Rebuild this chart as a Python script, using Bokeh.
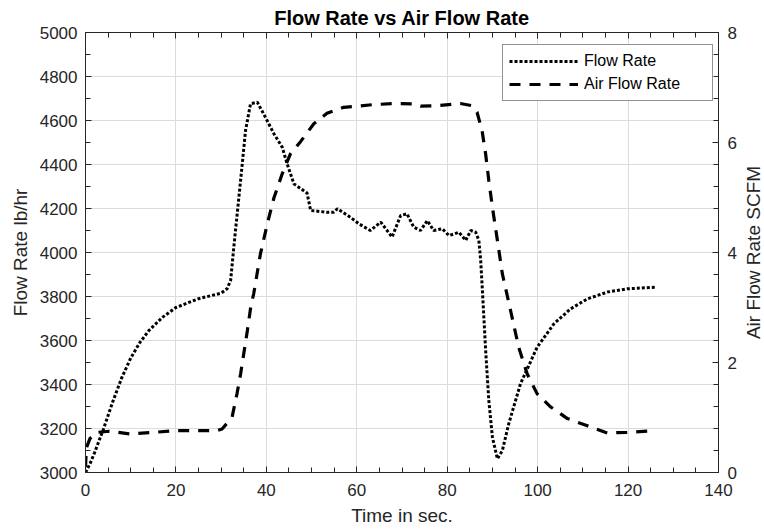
import math
from bokeh.plotting import figure
from bokeh.models import (Range1d, LinearAxis, SingleIntervalTicker, Legend,
                          LegendItem, CustomJSTickFormatter, Label)
from bokeh.embed import file_html
from bokeh.resources import INLINE

# ---- data ----
time_flow = [0, 1.0, 2.0, 4.0, 6.0, 8.0, 10.0, 12.0, 14.0, 17.0, 20.0, 25.0,
             30.0, 31.3, 32.1,
             32.8, 34.3, 35.4, 36.5, 38.0, 39.4, 41.7, 43.5, 44.6, 46.1, 49.0,
             49.8, 53.4, 54.9, 55.7, 58.6, 60.5, 63.0, 65.3, 67.8, 69.7, 71.1,
             72.6, 74.1, 75.6, 77.0, 78.9, 80.4, 82.6, 84.1, 85.2, 86.3, 87.0,
             87.4, 87.7, 88.5, 89.2, 90.0, 91.1, 92.2, 93.6, 96.2, 99.9, 103.6,
             107.3, 111.0, 115.4, 119.8, 126.1]
flow_rate = [3000, 3040, 3090, 3199, 3320, 3430, 3520, 3590, 3645, 3705, 3750, 3790,
             3815, 3835, 3873,
             4024, 4327, 4555, 4676, 4683, 4630, 4539, 4479, 4403, 4312, 4270,
             4191, 4183, 4183, 4199, 4160, 4130, 4100, 4138, 4070, 4168, 4176,
             4115, 4100, 4145, 4100, 4108, 4077, 4092, 4055, 4100, 4092, 4055,
             3964, 3858, 3555, 3327, 3160, 3062, 3100, 3221, 3403, 3570, 3676,
             3744, 3789, 3820, 3835, 3842]

time_air = [0, 0.2, 1.0, 2.6, 5.2, 10.0, 15.1, 19.9, 24.7, 29.1, 30.2, 32.4,
            33.5, 34.3, 35.0, 35.8, 36.6, 37.2, 38.7, 40.2, 41.7, 43.5, 45.3,
            47.6, 50.5, 53.4, 57.1, 60.1, 63.8, 69.0, 72.6, 74.1, 77.8, 82.9,
            85.5, 86.6, 87.7, 88.5, 89.2, 90.0, 91.1, 92.2, 94.0, 95.8, 97.7,
            99.9, 102.9, 106.6, 111.0, 115.4, 119.8, 126.1]
air_flow = [0.10, 0.45, 0.62, 0.73, 0.75, 0.70, 0.73, 0.76, 0.76, 0.76, 0.79, 1.00,
            1.43, 1.79, 2.16, 2.58, 3.04, 3.25, 3.98, 4.52, 5.00, 5.43, 5.79,
            6.02, 6.34, 6.53, 6.64, 6.66, 6.69, 6.71, 6.70, 6.66, 6.67, 6.71,
            6.67, 6.55, 6.22, 5.79, 5.31, 4.82, 4.22, 3.61, 2.95, 2.28, 1.79,
            1.43, 1.19, 0.98, 0.85, 0.72, 0.73, 0.76]

title_text = "Flow Rate vs Air Flow Rate"
x_label = "Time in sec."
y_left_label = "Flow Rate lb/hr"
y_right_label = "Air Flow Rate SCFM"
series_names = ["Flow Rate", "Air Flow Rate"]

FONT = "Liberation Sans"
AX_COLOR = "#262626"

p = figure(width=764, height=531, output_backend="svg", toolbar_location=None,
           x_range=Range1d(0, 140), y_range=Range1d(3000, 5000),
           min_border_left=85, min_border_right=46, min_border_top=32,
           min_border_bottom=59, title=title_text)
p.extra_y_ranges = {"air": Range1d(0, 8)}
p.background_fill_color = "white"
p.border_fill_color = "white"
p.outline_line_color = None

p.title.text_font = FONT
p.title.text_font_size = "20px"
p.title.text_font_style = "bold"
p.title.text_color = "black"
p.title.align = "center"
p.title.standoff = 7

xt = SingleIntervalTicker(interval=20, num_minor_ticks=4)
yt = SingleIntervalTicker(interval=200, num_minor_ticks=2)
p.xaxis.ticker = xt
p.yaxis.ticker = yt
p.xgrid.ticker = xt
p.ygrid.ticker = yt
for g in (p.xgrid, p.ygrid):
    g.grid_line_color = "#dcdcdc"
    g.grid_line_width = 1

def style(ax):
    ax.axis_line_color = AX_COLOR
    ax.axis_line_width = 1
    ax.major_tick_in = 6
    ax.major_tick_out = 0
    ax.minor_tick_in = 5
    ax.minor_tick_out = 0
    ax.major_tick_line_color = AX_COLOR
    ax.minor_tick_line_color = AX_COLOR
    ax.major_label_text_font = FONT
    ax.major_label_text_font_size = "17px"
    ax.major_label_text_color = AX_COLOR
    ax.axis_label_text_font = FONT
    ax.axis_label_text_font_size = "19px"
    ax.axis_label_text_font_style = "normal"
    ax.axis_label_text_color = AX_COLOR

xa = p.xaxis[0]
style(xa)
xa.axis_label = x_label
xa.major_label_standoff = 11
xa.axis_label_standoff = 6

ya = p.yaxis[0]
style(ya)
ya.axis_label = y_left_label
ya.major_label_standoff = 8
ya.axis_label_standoff = 6

ra = LinearAxis(y_range_name="air",
                ticker=SingleIntervalTicker(interval=2, num_minor_ticks=5))
style(ra)
ra.major_label_standoff = 9
p.add_layout(ra, "right")

# right-axis title placed in the right side panel (reads bottom-to-top)
right_title = Label(x=14, y=220, x_units="screen", y_units="screen",
                    text=y_right_label, angle=math.pi / 2,
                    text_align="center", text_baseline="middle",
                    text_font=FONT, text_font_size="19px",
                    text_color=AX_COLOR)
p.add_layout(right_title, "right")

ta = LinearAxis(ticker=SingleIntervalTicker(interval=20, num_minor_ticks=4),
                formatter=CustomJSTickFormatter(code="return ''"))
style(ta)
ta.major_label_standoff = 0
ta.major_label_text_font_size = "1px"
p.add_layout(ta, "above")

r1 = p.line(time_flow, flow_rate, line_color="black", line_width=3,
            line_dash="3 2")
r2 = p.line(time_air, air_flow, y_range_name="air", line_color="black",
            line_width=3.2, line_dash="11 9")

legend = Legend(items=[LegendItem(label=series_names[0], renderers=[r1]),
                       LegendItem(label=series_names[1], renderers=[r2])],
                location=(417, 371), margin=0, padding=6, spacing=3,
                glyph_width=69, glyph_height=20, label_height=20,
                label_width=122, label_standoff=6,
                label_text_font=FONT, label_text_font_size="16px",
                label_text_color="black",
                border_line_color=AX_COLOR, border_line_width=1,
                background_fill_color="white", background_fill_alpha=1)
p.add_layout(legend)

open("out.html", "w").write(file_html(p, INLINE))
